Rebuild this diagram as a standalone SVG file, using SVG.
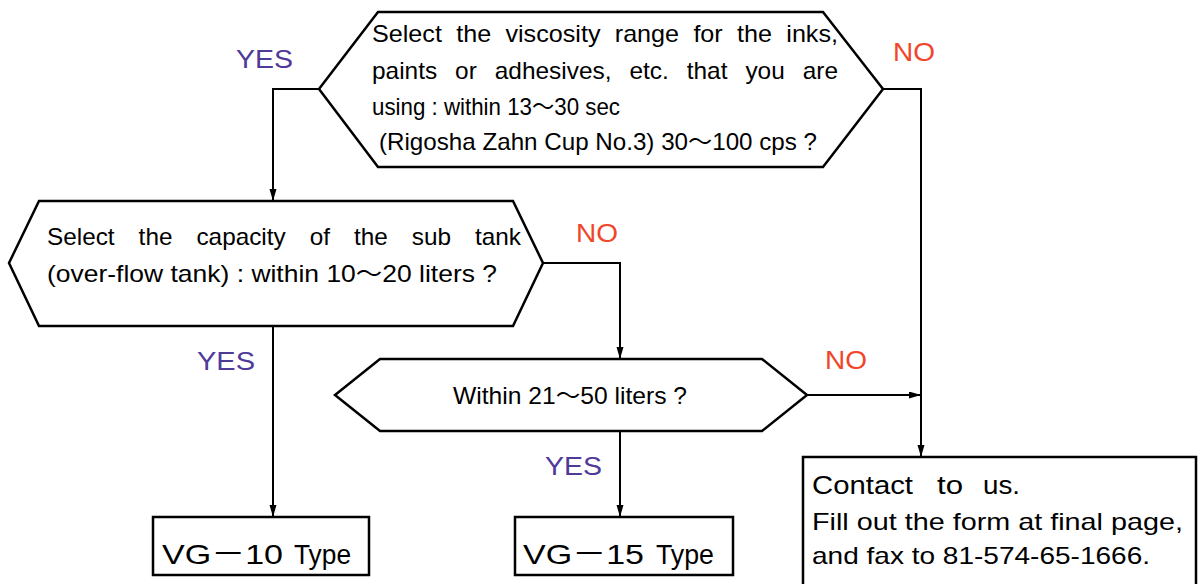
<svg xmlns="http://www.w3.org/2000/svg" width="1199" height="584" viewBox="0 0 1199 584">
<defs>
<style>
.shape{fill:#fff;stroke:#000;stroke-width:2.5;stroke-linejoin:miter}
.con{fill:none;stroke:#000;stroke-width:2}
.t{font-family:"Liberation Sans","Noto Sans CJK JP",sans-serif;fill:#000}
.yes{font-family:"Liberation Sans",Arial,sans-serif;fill:#4F3A9A;font-size:25px}
.no{font-family:"Liberation Sans",Arial,sans-serif;fill:#F0462A;font-size:25px}
</style>
<marker id="arr" markerUnits="userSpaceOnUse" markerWidth="12" markerHeight="8" refX="12" refY="3.5" orient="auto">
<path d="M0,0 L12,3.5 L0,7 z" fill="#000"/>
</marker>
</defs>
<rect width="1199" height="584" fill="#fff"/>
<g id="connectors">
<polyline class="con" points="319,89 273,89 273,201" marker-end="url(#arr)"/>
<polyline class="con" points="883,89 921,89 921,457" marker-end="url(#arr)"/>
<polyline class="con" points="543,263 620,263 620,359" marker-end="url(#arr)"/>
<polyline class="con" points="273,326 273,517" marker-end="url(#arr)"/>
<polyline class="con" points="620,431 620,517" marker-end="url(#arr)"/>
<polyline class="con" points="807,395 921,395" marker-end="url(#arr)"/>
</g>
<g id="labels">
<text class="yes" x="236" y="68" textLength="57" lengthAdjust="spacingAndGlyphs">YES</text>
<text class="no" x="893" y="61" textLength="42" lengthAdjust="spacingAndGlyphs">NO</text>
<text class="no" x="576" y="242" textLength="42" lengthAdjust="spacingAndGlyphs">NO</text>
<text class="yes" x="197" y="370" textLength="58" lengthAdjust="spacingAndGlyphs">YES</text>
<text class="no" x="825" y="369" textLength="42" lengthAdjust="spacingAndGlyphs">NO</text>
<text class="yes" x="545" y="475" textLength="57" lengthAdjust="spacingAndGlyphs">YES</text>
</g>
<g id="q-viscosity">
<polygon class="shape" points="378,12 823,12 883,89 823,167 378,167 319,89"/>
<text class="t" font-size="24" x="372" y="42" word-spacing="7" textLength="466" lengthAdjust="spacingAndGlyphs">Select the viscosity range for the inks,</text>
<text class="t" font-size="24" x="372" y="79" word-spacing="11" textLength="466" lengthAdjust="spacingAndGlyphs">paints or adhesives, etc. that you are</text>
<text class="t" font-size="24" x="372" y="115" textLength="248" lengthAdjust="spacingAndGlyphs">using : within 13～30 sec</text>
<text class="t" font-size="24" x="379" y="150" textLength="438" lengthAdjust="spacingAndGlyphs">(Rigosha Zahn Cup No.3) 30～100 cps ?</text>
</g>
<g id="q-subtank">
<polygon class="shape" points="39,201 513,201 543,263 513,326 39,326 9,263"/>
<text class="t" font-size="24" x="47" y="245" word-spacing="17" textLength="474" lengthAdjust="spacingAndGlyphs">Select the capacity of the sub tank</text>
<text class="t" font-size="24" x="47" y="282" textLength="450" lengthAdjust="spacingAndGlyphs">(over-flow tank) : within 10～20 liters ?</text>
</g>
<g id="q-21-50">
<polygon class="shape" points="380,359 762,359 807,395 762,431 380,431 335,395"/>
<text class="t" font-size="24" x="453" y="404" textLength="234" lengthAdjust="spacingAndGlyphs">Within 21～50 liters ?</text>
</g>
<g id="vg10">
<rect class="shape" x="153" y="517" width="216" height="58"/>
<text class="t" font-size="28" y="564"><tspan x="162" textLength="121" lengthAdjust="spacingAndGlyphs">VG－10</tspan> <tspan x="294" textLength="57" lengthAdjust="spacingAndGlyphs">Type</tspan></text>
</g>
<g id="vg15">
<rect class="shape" x="515" y="517" width="218" height="58"/>
<text class="t" font-size="28" y="564"><tspan x="523" textLength="121" lengthAdjust="spacingAndGlyphs">VG－15</tspan> <tspan x="656" textLength="58" lengthAdjust="spacingAndGlyphs">Type</tspan></text>
</g>
<g id="contact">
<rect class="shape" x="803" y="457" width="393" height="140"/>
<text class="t" font-size="25" y="494"><tspan x="812" textLength="101" lengthAdjust="spacingAndGlyphs">Contact</tspan> <tspan x="937" textLength="26" lengthAdjust="spacingAndGlyphs">to</tspan> <tspan x="983" textLength="37" lengthAdjust="spacingAndGlyphs">us.</tspan></text>
<text class="t" font-size="24" x="812" y="530" textLength="371" lengthAdjust="spacingAndGlyphs">Fill out the form at final page,</text>
<text class="t" font-size="24" x="812" y="564" textLength="338" lengthAdjust="spacingAndGlyphs">and  fax to 81-574-65-1666.</text>
</g>
</svg>
